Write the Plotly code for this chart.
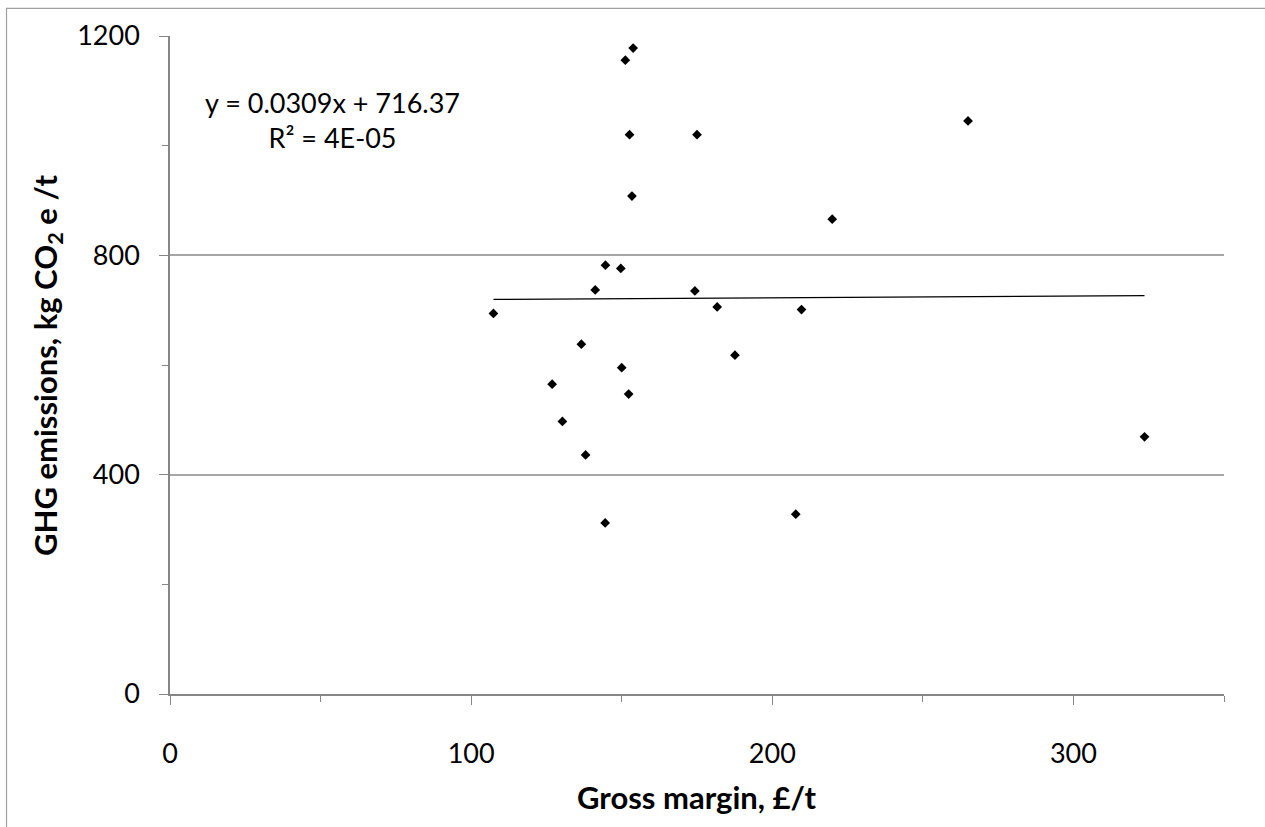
import plotly.graph_objects as go

# Gross margin (£/t) and GHG emissions (kg CO2e/t) per farm
gross_margin = [153.8, 151.2, 152.6, 175.0, 153.4, 144.6, 149.7, 141.2, 174.3, 107.4,
                181.7, 136.6, 187.6, 150.0, 126.9, 152.3, 130.3, 138.0, 144.5, 265.0,
                219.9, 209.7, 323.6, 207.8]
ghg_emissions = [1178, 1156, 1020, 1020, 908, 782, 776, 737, 735, 694,
                 706, 638, 618, 595, 565, 547, 497, 436, 312, 1045,
                 866, 701, 469, 328]

# Linear trend line coefficients
slope = 0.0309
intercept = 716.37
r_squared_label = "4E-05"

x_ticks = [0, 100, 200, 300]
y_ticks = [0, 400, 800, 1200]

FONT = "Lato, 'Open Sans', sans-serif"
GRID = "#A6A6A6"
AXIS = "#868686"
TICK_SIZE = 27
TITLE_SIZE = 31

trend_x = [min(gross_margin), max(gross_margin)]
trend_y = [slope * v + intercept for v in trend_x]

fig = go.Figure()
fig.add_trace(go.Scatter(
    x=trend_x, y=trend_y, mode="lines",
    line=dict(color="black", width=1.2),
    hoverinfo="skip", showlegend=False,
))
fig.add_trace(go.Scatter(
    x=gross_margin, y=ghg_emissions, mode="markers",
    marker=dict(symbol="diamond", size=7.5, color="black", line=dict(width=0)),
    showlegend=False,
))

fig.update_layout(
    width=1265, height=827,
    margin=dict(l=170, r=41, t=36, b=133, autoexpand=False),
    paper_bgcolor="white", plot_bgcolor="white",
    font=dict(family=FONT, size=TICK_SIZE, color="black"),
    xaxis=dict(
        range=[0, 350], tickvals=x_ticks, showgrid=False, zeroline=False,
        showline=True, linecolor=AXIS, linewidth=1.5,
        ticks="outside", ticklen=9, tickcolor=AXIS, tickwidth=1,
        ticklabelstandoff=26,
        minor=dict(dtick=50, tick0=0, ticks="outside", ticklen=6, tickcolor=AXIS, showgrid=False),
        tickfont=dict(family=FONT, size=TICK_SIZE, color="black"),
    ),
    yaxis=dict(
        range=[0, 1200], tickvals=y_ticks, showgrid=True, gridcolor=GRID, gridwidth=1.5,
        zeroline=False, showline=True, linecolor=AXIS, linewidth=1.5,
        ticks="outside", ticklen=9, tickcolor=AXIS, tickwidth=1,
        ticklabelstandoff=14,
        minor=dict(dtick=200, tick0=0, ticks="outside", ticklen=6, tickcolor=AXIS, showgrid=False),
        tickfont=dict(family=FONT, size=TICK_SIZE, color="black"),
    ),
)

# Chart frame
fig.add_shape(type="rect", xref="paper", yref="paper",
              x0=-0.1551, y0=-0.4, x1=1.2, y1=1.0421,
              line=dict(color="#A0A0A0", width=1.2), fillcolor="rgba(0,0,0,0)", layer="below")

# Regression equation
fig.add_annotation(
    x=54, y=1046, xref="x", yref="y", showarrow=False,
    text=f"y = {slope}x + {intercept}<br>R² = {r_squared_label}",
    align="center", xanchor="center", yanchor="middle",
    font=dict(family=FONT, size=27, color="black"),
)

# Axis titles
fig.add_annotation(
    x=0.5, y=-0.156, xref="paper", yref="paper", showarrow=False,
    text="<b>Gross margin, £/t</b>", xanchor="center", yanchor="middle",
    font=dict(family=FONT, size=TITLE_SIZE, color="black"),
)
fig.add_annotation(
    x=-0.1167, y=0.5, xref="paper", yref="paper", showarrow=False,
    text="<b>GHG emissions, kg CO<sub>2</sub> e /t</b>", textangle=-90,
    xanchor="center", yanchor="middle",
    font=dict(family=FONT, size=TITLE_SIZE, color="black"),
)

fig.write_html("out.html")
